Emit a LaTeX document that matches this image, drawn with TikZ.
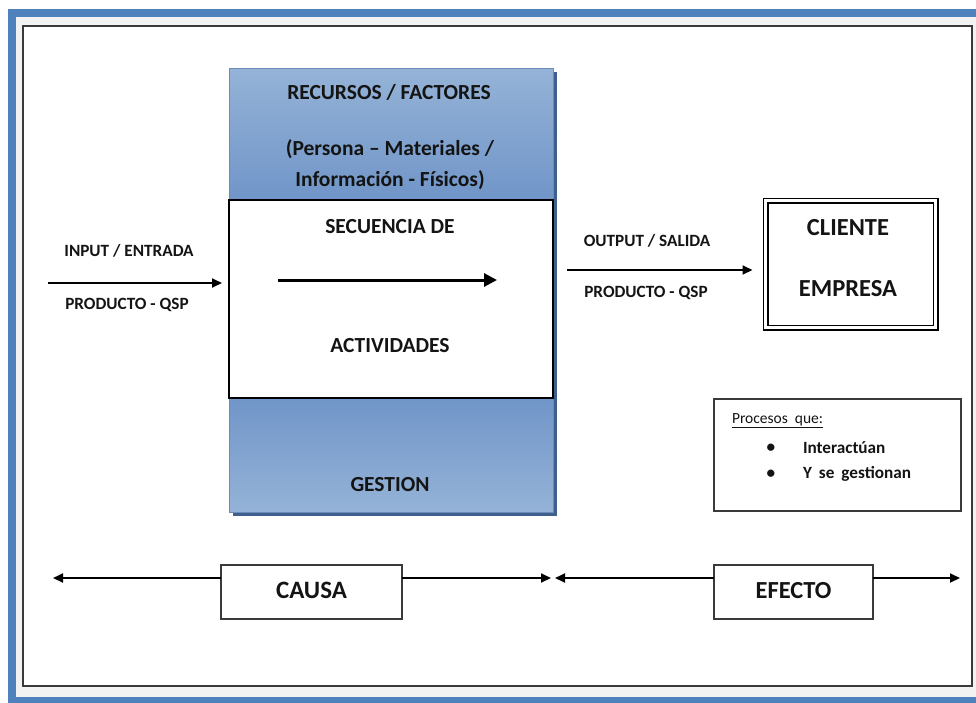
\documentclass[tikz,border=0pt]{standalone}
\usepackage{fontspec}
\setmainfont{Carlito}
\usetikzlibrary{arrows.meta}
\definecolor{framebl}{HTML}{4F81BD}
\definecolor{framegr}{HTML}{F2F2F2}
\definecolor{framebk}{HTML}{3A3A3A}
\definecolor{panelL}{HTML}{95B3D7}
\definecolor{panelD}{HTML}{7095C8}
\definecolor{paneledge}{HTML}{6A8CBB}
\definecolor{shadowc}{HTML}{3F5F8C}
\definecolor{txt}{HTML}{141414}
\begin{document}
\begin{tikzpicture}[x=1pt,y=-1pt,
  every node/.style={inner sep=0pt, outer sep=0pt, text=txt},
  small/.style={font=\bfseries\fontsize{17.2}{20}\selectfont},
  mid/.style={font=\bfseries\fontsize{21.5}{25}\selectfont},
  large/.style={font=\bfseries\fontsize{24.5}{28}\selectfont},
  plain/.style={font=\fontsize{15.5}{18}\selectfont},
  panel/.style={draw=paneledge, line width=0.8pt, minimum width=324, anchor=north west},
  whitebox/.style={draw=black, fill=white, line width=1.3pt, minimum width=324, minimum height=198, anchor=north west},
  arr/.style={line width=1.8pt, draw=black, -{Triangle[length=10pt,width=9pt]}},
  bigarr/.style={line width=3pt, draw=black, -{Triangle[length=13pt,width=13pt]}},
  clientbox/.style={draw=black, double=white, double distance=3.2pt, line width=1.4pt, fill=white,
     minimum width=170, minimum height=127},
  labbox/.style={draw=framebk, line width=1.4pt, fill=white}
]
\useasboundingbox (0,0) rectangle (976,702);
\clip (0,0) rectangle (976,702);
% outer frame
\fill[framebl] (8,9) rectangle (1000,720);
\fill[framegr] (16,17) rectangle (990,697);
\draw[framebk, line width=1.4pt, fill=white] (23,26) rectangle (972,686);

% central column shadow
\fill[shadowc] (233,72) rectangle (557,516);
\node[panel, top color=panelL, bottom color=panelD, minimum height=132] (res) at (229,68) {};
\node[panel, top color=panelD, bottom color=panelL, minimum height=114] (gest) at (229,398) {};
\node[whitebox] (seq) at (229,200) {};

\node[mid] (t1) at (389,92) {RECURSOS / FACTORES};
\node[mid] (t2) at (390,149) {(Persona – Materiales /};
\node[mid] (t3) at (390,180) {Información - Físicos)};
\node[mid] (t4) at (390,227) {SECUENCIA DE};
\node[mid] (t5) at (390,346) {ACTIVIDADES};
\node[mid] (t6) at (390,485) {GESTION};
\coordinate (ia) at (278,280);
\coordinate (ib) at (497,280);
\draw[bigarr] (ia) -- (ib);

% input
\node[small] (in1) at (129,251) {INPUT / ENTRADA};
\node[small] (in2) at (127,305) {PRODUCTO - QSP};
\coordinate (ins) at (48,283);
\draw[arr, shorten >=7pt] (ins) -- (ins -| seq.west);

% output
\node[small] (out1) at (647,241) {OUTPUT / SALIDA};
\node[small] (out2) at (646,293) {PRODUCTO - QSP};
\node[clientbox] (cli) at (850.5,264) {};
\node[large] (c1) at (848,228) {CLIENTE};
\node[large] (c2) at (848,289) {EMPRESA};
\coordinate (outs) at (567,270);
\draw[arr, shorten >=13pt] (outs) -- (outs -| cli.west);

% processes box
\node[labbox, minimum width=247, minimum height=112] (proc) at (837.5,455) {};
\node[plain, anchor=west] (pq) at (732,421) {\underline{Procesos\ \ que:}};
\node[small] (b1) at (771,448) {•};
\node[small] (b2) at (771,474) {•};
\node[small, anchor=west] (p1) at (803,448) {Interactúan};
\node[small, anchor=west] (p2) at (803,474) {Y\hspace{7pt}se\hspace{7pt}gestionan};

% bottom
\node[labbox, minimum width=181, minimum height=54, font=\bfseries\fontsize{25}{29}\selectfont] (causa) at (311.5,592) {\raisebox{4pt}{CAUSA}};
\node[labbox, minimum width=159, minimum height=54, font=\bfseries\fontsize{24.5}{29}\selectfont] (efecto) at (793.5,592) {\raisebox{4pt}{EFECTO}};
\coordinate (bl) at (53,578);
\coordinate (bm1) at (551,578);
\coordinate (bm2) at (555,578);
\coordinate (br) at (960,578);
\draw[arr] (causa.west |- bl) -- (bl);
\draw[arr] (causa.east |- bl) -- (bm1);
\draw[arr] (efecto.west |- bl) -- (bm2);
\draw[arr] (efecto.east |- bl) -- (br);
\end{tikzpicture}
\end{document}
